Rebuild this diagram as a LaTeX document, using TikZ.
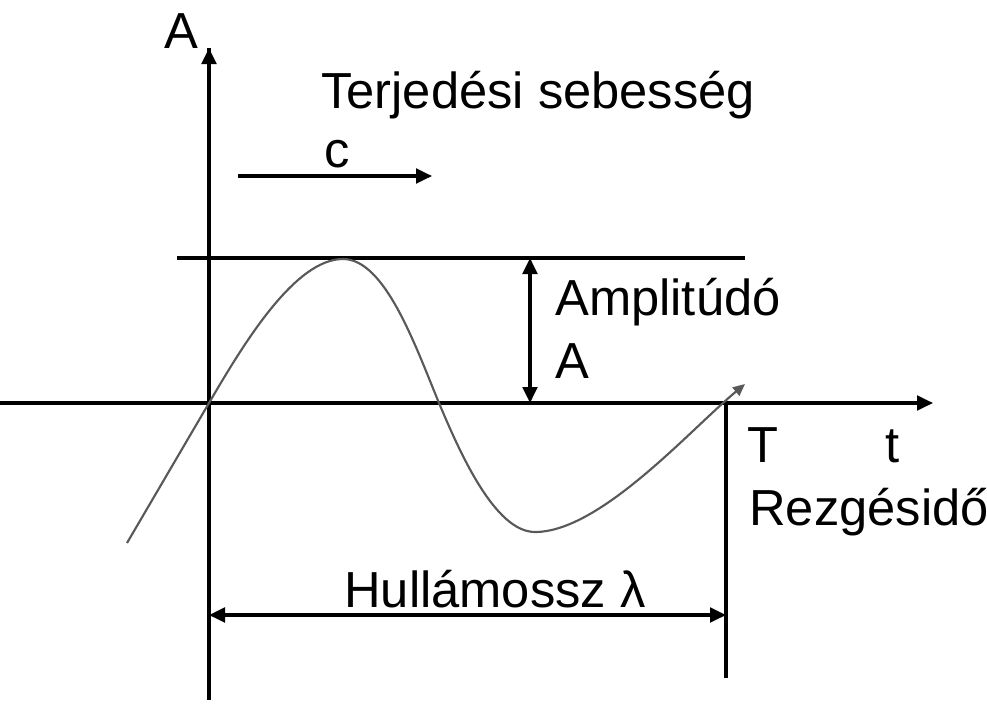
\documentclass[tikz,border=0pt]{standalone}
\usepackage{fontspec}
\setmainfont{Liberation Sans}
\usetikzlibrary{arrows.meta}
\begin{document}
\begin{tikzpicture}[x=0.75pt,y=-0.75pt,
  lbl/.style={inner sep=0pt,anchor=base west,font=\fontsize{38}{44}\selectfont},
  axis/.style={line width=2.3pt,black},
  tip/.style={-{Triangle[length=12pt,width=11pt]}},
  tips/.style={{Triangle[length=12pt,width=11pt]}-{Triangle[length=12pt,width=11pt]}},
  wave/.style={line width=1.6pt,black!65,-{Triangle[length=9pt,width=8pt]}}]
\useasboundingbox (0,0) rectangle (987,703);
% coordinates
\coordinate (ybot) at (209,700);
\coordinate (ytop) at (209,48);
\coordinate (xl) at (0,403);
\coordinate (xr) at (933,403);
\coordinate (topl) at (177,258);
\coordinate (topr) at (745,258);
\coordinate (ampt) at (530,258);
\coordinate (ampb) at (530,403);
\coordinate (rvt) at (726,403);
\coordinate (rvb) at (726,678);
\coordinate (cl) at (238,176);
\coordinate (cr) at (432,176);
\coordinate (ll) at (209,615);
\coordinate (lr) at (726,615);
% axes and lines
\draw[axis] (ybot) -- (ytop);
\draw[axis,tip] (ybot) -- (ytop);
\draw[axis,tip] (xl) -- (xr);
\draw[axis] (topl) -- (topr);
\draw[axis] (rvt) -- (rvb);
\draw[axis,tips] (ampt) -- (ampb);
\draw[axis,tip] (cl) -- (cr);
\draw[axis,tips] (ll) -- (lr);
% wave
\draw[wave] (127,543) -- (209,403)
  .. controls (244,343) and (295,259) .. (343,259)
  .. controls (385,259) and (415,345) .. (439,403)
  .. controls (460,453) and (495,532) .. (535,532)
  .. controls (600,532) and (690,430) .. (745,384);
% labels
\node[lbl] (lA) at (164,48) {A};
\node[lbl] (lterj) at (321,108) {Terjedési sebesség};
\node[lbl] (lc) at (324,167) {c};
\node[lbl] (lamp) at (555,315) {Amplitúdó};
\node[lbl] (lampA) at (555,378) {A};
\node[lbl] (lT) at (747,462) {T};
\node[lbl] (lt) at (885,462) {t};
\node[lbl] (lrez) at (749,525) {Rezgésidő};
\node[lbl] (lhull) at (344,607) {Hullámossz λ};
\end{tikzpicture}
\end{document}
